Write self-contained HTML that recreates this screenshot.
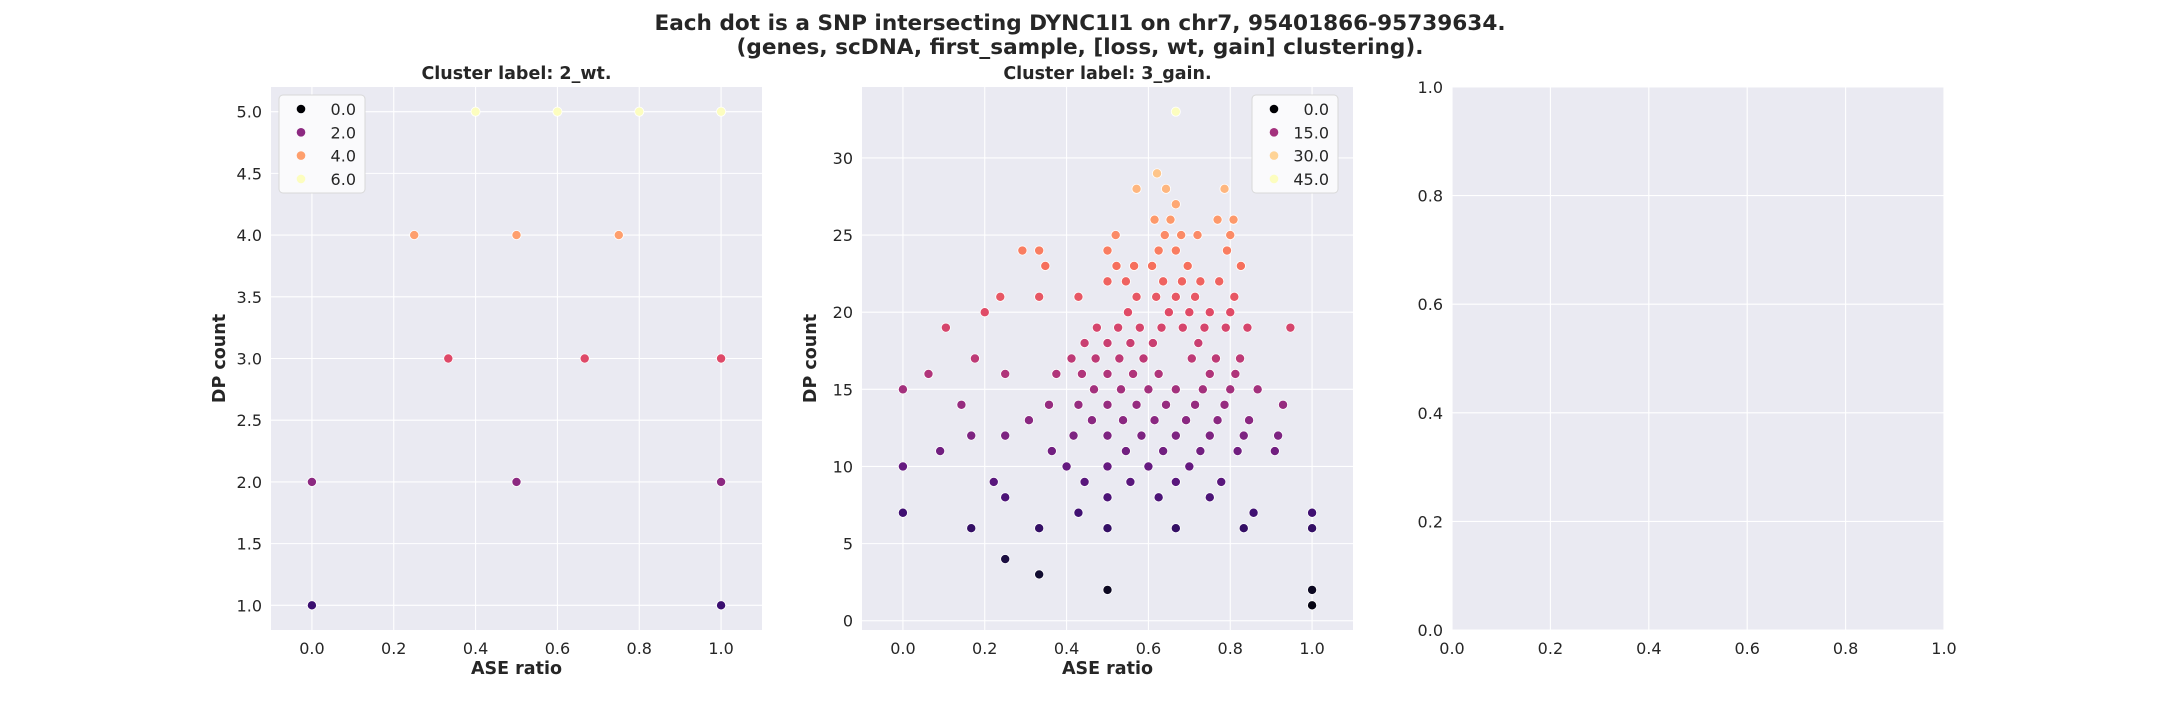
<!DOCTYPE html>
<html><head><meta charset="utf-8"><style>
html,body{margin:0;padding:0;background:#fff;}
svg{display:block;font-family:"DejaVu Sans","Liberation Sans",sans-serif;}
</style></head><body>
<svg id="fig" width="2160" height="720" viewBox="0 0 2160 720" xmlns="http://www.w3.org/2000/svg">
<text x="1080" y="30" text-anchor="middle" font-size="21.6" font-weight="bold" fill="#262626">Each dot is a SNP intersecting DYNC1I1 on chr7, 95401866-95739634.</text>
<text x="1080" y="54" text-anchor="middle" font-size="21.6" font-weight="bold" fill="#262626">(genes, scDNA, first_sample, [loss, wt, gain] clustering).</text>
</svg>
<script>
// Panel 1 (2_wt) data
const p1X = [0,1, 0,0.5,1, 0.3333,0.6667,1, 0.25,0.5,0.75, 0.4,0.6,0.8,1];
const p1DP = [1,1, 2,2,2, 3,3,3, 4,4,4, 5,5,5,5];
const p1YTicks = [1.0,1.5,2.0,2.5,3.0,3.5,4.0,4.5,5.0];
const p1Legend = [0,2,4,6];
// Panel 2 (3_gain) data
const p2X = [0.667,
 0.621,0.571,0.643,0.786,0.667,
 0.615,0.654,0.769,0.808,
 0.52,0.64,0.68,0.72,0.8,
 0.292,0.333,0.5,0.625,0.667,0.792,
 0.348,0.522,0.565,0.609,0.696,0.826,
 0.5,0.545,0.636,0.682,0.727,0.773,
 0.238,0.333,0.429,0.571,0.619,0.667,0.714,0.81,
 0.2,0.55,0.65,0.7,0.75,0.8,
 0.105,0.474,0.526,0.579,0.632,0.684,0.737,0.789,0.842,0.947,
 0.444,0.5,0.556,0.611,0.722,
 0.176,0.412,0.471,0.529,0.588,0.706,0.765,0.824,
 0.0625,0.25,0.375,0.4375,0.5,0.5625,0.625,0.75,0.8125,
 0,0.467,0.533,0.6,0.667,0.733,0.8,0.867,
 0.143,0.357,0.429,0.5,0.571,0.643,0.714,0.786,0.929,
 0.308,0.462,0.538,0.615,0.692,0.769,0.846,
 0.167,0.25,0.417,0.5,0.583,0.667,0.75,0.833,0.917,
 0.091,0.364,0.545,0.636,0.727,0.818,0.909,
 0,0.4,0.5,0.6,0.7,
 0.222,0.444,0.556,0.667,0.778,
 0.25,0.5,0.625,0.75,
 0,0.429,0.857,1,
 0.167,0.333,0.5,0.667,0.833,1,
 0.25,0.333,0.5,1,1];
const p2DP = [33,
 29,28,28,28,27,
 26,26,26,26,
 25,25,25,25,25,
 24,24,24,24,24,24,
 23,23,23,23,23,23,
 22,22,22,22,22,22,
 21,21,21,21,21,21,21,21,
 20,20,20,20,20,20,
 19,19,19,19,19,19,19,19,19,19,
 18,18,18,18,18,
 17,17,17,17,17,17,17,17,
 16,16,16,16,16,16,16,16,16,
 15,15,15,15,15,15,15,15,
 14,14,14,14,14,14,14,14,14,
 13,13,13,13,13,13,13,
 12,12,12,12,12,12,12,12,12,
 11,11,11,11,11,11,11,
 10,10,10,10,10,
 9,9,9,9,9,
 8,8,8,8,
 7,7,7,7,
 6,6,6,6,6,6,
 4,3,2,2,1];
const p2YTicks = [0,5,10,15,20,25,30];
const p2Legend = [0,15,30,45];
const xTicks = [0.0,0.2,0.4,0.6,0.8,1.0];
const p3Ticks = [0.0,0.2,0.4,0.6,0.8,1.0];

const NS='http://www.w3.org/2000/svg';
const svg=document.getElementById('fig');
const magmaStops=['#000004','#140e36','#3b0f70','#641a80','#8c2981','#b73779','#de4968','#f7705c','#fe9f6d','#fecf92','#fcfdbf'];
function hex(h){return [parseInt(h.substr(1,2),16),parseInt(h.substr(3,2),16),parseInt(h.substr(5,2),16)];}
function magma(t){t=Math.max(0,Math.min(1,t));const f=t*10;const i=Math.min(9,Math.floor(f));const r=f-i;const a=hex(magmaStops[i]),b=hex(magmaStops[i+1]);
 return 'rgb('+a.map((v,k)=>Math.round(v+(b[k]-v)*r)).join(',')+')';}
function mk(tag,attrs,parent){const e=document.createElementNS(NS,tag);for(const k in attrs)e.setAttribute(k,attrs[k]);(parent||svg).appendChild(e);return e;}
function txt(x,y,s,attrs,parent){const e=mk('text',Object.assign({x:x,y:y,'font-size':16,fill:'#262626'},attrs),parent);e.textContent=s;return e;}

const T=87,B=630;
function panel(L,R,xlim,ylim,ytf,name,title,xs,ys,norm,legend,legendX,xt,yt){
 const g=mk('g',{});
 
 
 const sx=v=>L+(v-xlim[0])/(xlim[1]-xlim[0])*(R-L);
 const sy=v=>B-(v-ylim[0])/(ylim[1]-ylim[0])*(B-T);
 const bg=mk('rect',{x:L,y:T,width:R-L,height:B-T,fill:'#eaeaf2'},g);
 
 
 xt.forEach(v=>{const x=sx(v);
  const gl=mk('line',{x1:x,x2:x,y1:T,y2:B,stroke:'#fff','stroke-width':1.1},g);
  
  
  const t=txt(x,B+24,v.toFixed(1),{'text-anchor':'middle'},g);
  
  });
 yt.forEach(v=>{const y=sy(v);
  const gl=mk('line',{x1:L,x2:R,y1:y,y2:y,stroke:'#fff','stroke-width':1.1},g);
  
  
  const t=txt(L-9,y+6,ytf(v),{'text-anchor':'end'},g);
  
  });
 if(title){
  const t=txt((L+R)/2,79,title,{'text-anchor':'middle','font-weight':'bold','font-size':17.5},g);
  
  
  const xl=txt((L+R)/2,674,'ASE ratio',{'text-anchor':'middle','font-weight':'bold','font-size':17.5},g);
  
  
  const yl=txt(0,0,'DP count',{'text-anchor':'middle','font-weight':'bold','font-size':17.5,transform:'translate('+(L-46)+','+((T+B)/2)+') rotate(-90)'},g);
  
  
 }
 if(xs){
  xs.forEach((v,i)=>{
   const c=mk('circle',{cx:sx(v),cy:sy(ys[i]),r:4.6,fill:magma(ys[i]/norm),stroke:'#fff','stroke-width':0.8},g);
   
   
  });
 }
 if(legend){
  const lg=mk('g',{},g);
  
  
  const box=mk('rect',{x:legendX,y:95,width:86,height:98,rx:4,fill:'#fafafc',stroke:'#d8d8d8','stroke-width':1},lg);
  
  
  legend.forEach((v,i)=>{const y=109+i*23.3;
   const c=mk('circle',{cx:legendX+22,cy:y,r:4.3,fill:magma(v/norm)},lg);
   
   
   const t=txt(legendX+77,y+6,v.toFixed(1),{'text-anchor':'end'},lg);
   
   });
 }
}
panel(271,762,[-0.1,1.1],[0.8,5.2],v=>v.toFixed(1),'panel-2-wt','Cluster label: 2_wt.',p1X,p1DP,5,p1Legend,279,xTicks,p1YTicks);
panel(862,1353,[-0.1,1.1],[-0.6,34.6],v=>String(v),'panel-3-gain','Cluster label: 3_gain.',p2X,p2DP,33,p2Legend,1252,xTicks,p2YTicks);
panel(1452,1944,[0,1],[0,1],v=>v.toFixed(1),'panel-empty',null,null,null,1,null,0,p3Ticks,p3Ticks);
</script>
</body></html>
